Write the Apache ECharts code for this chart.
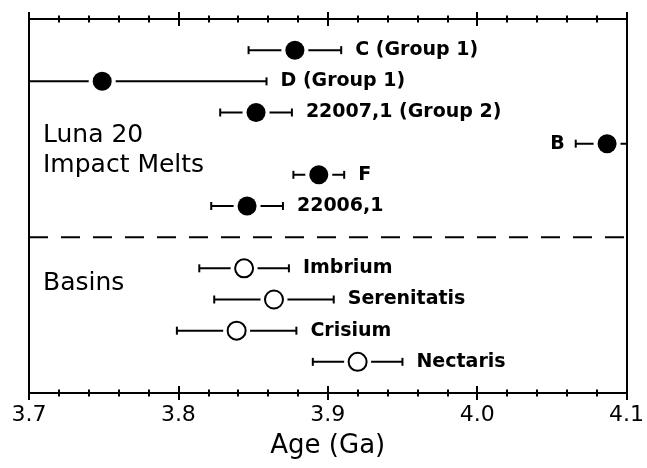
<!DOCTYPE html>
<html>
<head>
<meta charset="utf-8">
<script src="https://cdn.jsdelivr.net/npm/echarts@6/dist/echarts.min.js"></script>
<style>html,body{margin:0;padding:0;background:#fff;}#chart{width:647px;height:468px;}</style>
</head>
<body>
<div id="chart"></div>
<script>
// ---- data ----
const labels = ['C (Group 1)', 'D (Group 1)', '22007,1 (Group 2)', 'B', 'F', '22006,1', 'Imbrium', 'Serenitatis', 'Crisium', 'Nectaris'];
const ages   = [3.878, 3.749, 3.852, 4.087, 3.894, 3.846, 3.844, 3.864, 3.839, 3.920];
const errors = [0.031, 0.110, 0.024, 0.021, 0.017, 0.024, 0.030, 0.040, 0.040, 0.030];
const rows   = [1, 2, 3, 4, 5, 6, 8, 9, 10, 11];
const kinds  = ['melt', 'melt', 'melt', 'melt', 'melt', 'melt', 'basin', 'basin', 'basin', 'basin'];
const labelSide = ['right', 'right', 'right', 'left', 'right', 'right', 'right', 'right', 'right', 'right'];
const dividerRow = 7;
const xMin = 3.7, xMax = 4.1, xStep = 0.1;
const yMin = 0, yMax = 12;
const groupTitles = ['Luna 20\nImpact Melts', 'Basins'];
const axisTitle = 'Age (Ga)';

const FONT = '"DejaVu Sans", sans-serif';
const seriesData = ages.map((a, i) => [a, rows[i], errors[i], i]);

function renderItem(params, api) {
  const age = api.value(0), row = api.value(1), err = api.value(2), i = api.value(3);
  const loRaw = age - err, hiRaw = age + err;
  const lo = Math.max(loRaw, xMin), hi = Math.min(hiRaw, xMax);
  const pL = api.coord([lo, row]), pC = api.coord([age, row]), pR = api.coord([hi, row]);
  const st = { stroke: '#000', lineWidth: 2 };
  const ch = [];
  ch.push({ type: 'line', shape: { x1: pL[0], y1: pL[1], x2: pR[0], y2: pR[1] }, style: st });
  if (loRaw >= xMin) ch.push({ type: 'line', shape: { x1: pL[0], y1: pL[1] - 4, x2: pL[0], y2: pL[1] + 4 }, style: st });
  if (hiRaw <= xMax) ch.push({ type: 'line', shape: { x1: pR[0], y1: pR[1] - 4, x2: pR[0], y2: pR[1] + 4 }, style: st });
  ch.push({ type: 'circle', shape: { cx: pC[0], cy: pC[1], r: 13.5 }, style: { fill: '#fff' } });
  if (kinds[i] === 'melt') {
    ch.push({ type: 'circle', shape: { cx: pC[0], cy: pC[1], r: 9.5 }, style: { fill: '#000' } });
  } else {
    ch.push({ type: 'circle', shape: { cx: pC[0], cy: pC[1], r: 9 }, style: { fill: '#fff', stroke: '#000', lineWidth: 2 } });
  }
  if (labelSide[i] === 'right') {
    ch.push({ type: 'text', style: { x: pR[0] + 14, y: pR[1], text: labels[i], align: 'left', verticalAlign: 'middle', font: 'bold 19px ' + FONT, fill: '#000' } });
  } else {
    ch.push({ type: 'text', style: { x: pL[0] - 11, y: pL[1], text: labels[i], align: 'right', verticalAlign: 'middle', font: 'bold 19px ' + FONT, fill: '#000' } });
  }
  return { type: 'group', children: ch };
}

function xAxisDef(pos, inside, showLabel, showLine) {
  return {
    type: 'value', position: pos, min: xMin, max: xMax, interval: xStep,
    axisLine: { show: showLine, onZero: false, lineStyle: { color: '#000', width: 2 } },
    axisTick: { show: true, inside: inside, length: 7, lineStyle: { color: '#000', width: 2 } },
    minorTick: { show: true, splitNumber: 5, length: 3.5, lineStyle: { color: '#000', width: 2 } },
    splitLine: { show: false },
    axisLabel: { show: showLabel, margin: 11, fontSize: 22, fontFamily: FONT, color: '#000', formatter: v => v.toFixed(1) },
    name: showLabel ? axisTitle : '', nameLocation: 'middle', nameGap: 40,
    nameTextStyle: { fontSize: 26, fontFamily: FONT, color: '#000' }
  };
}
function yAxisDef(pos) {
  return {
    type: 'value', position: pos, min: yMin, max: yMax, inverse: true,
    axisLine: { show: true, onZero: false, lineStyle: { color: '#000', width: 2 } },
    axisTick: { show: false }, axisLabel: { show: false }, splitLine: { show: false }
  };
}

const chart = echarts.init(document.getElementById('chart'), null, { renderer: 'canvas' });
chart.setOption({
  animation: false,
  backgroundColor: '#fff',
  grid: { left: 29, right: 17, top: 19, bottom: 75, containLabel: false },
  xAxis: [
    xAxisDef('bottom', false, true, true),
    xAxisDef('bottom', true, false, false),
    xAxisDef('top', false, false, true),
    xAxisDef('top', true, false, false)
  ],
  yAxis: [yAxisDef('left'), yAxisDef('right')],
  graphic: [
    { type: 'text', left: 43, top: 120, style: { text: groupTitles[0], font: '25px ' + FONT, lineHeight: 30, fill: '#000' } },
    { type: 'text', left: 43, top: 268, style: { text: groupTitles[1], font: '25px ' + FONT, lineHeight: 30, fill: '#000' } }
  ],
  series: [
    {
      type: 'line', xAxisIndex: 0, yAxisIndex: 0, symbol: 'none',
      data: [[xMin, dividerRow], [xMax, dividerRow]],
      lineStyle: { color: '#000', width: 2, type: [19, 13] }, silent: true
    },
    {
      type: 'custom', xAxisIndex: 0, yAxisIndex: 0, renderItem: renderItem,
      data: seriesData, encode: { x: 0, y: 1 }, silent: true
    }
  ]
});
</script>
</body>
</html>
